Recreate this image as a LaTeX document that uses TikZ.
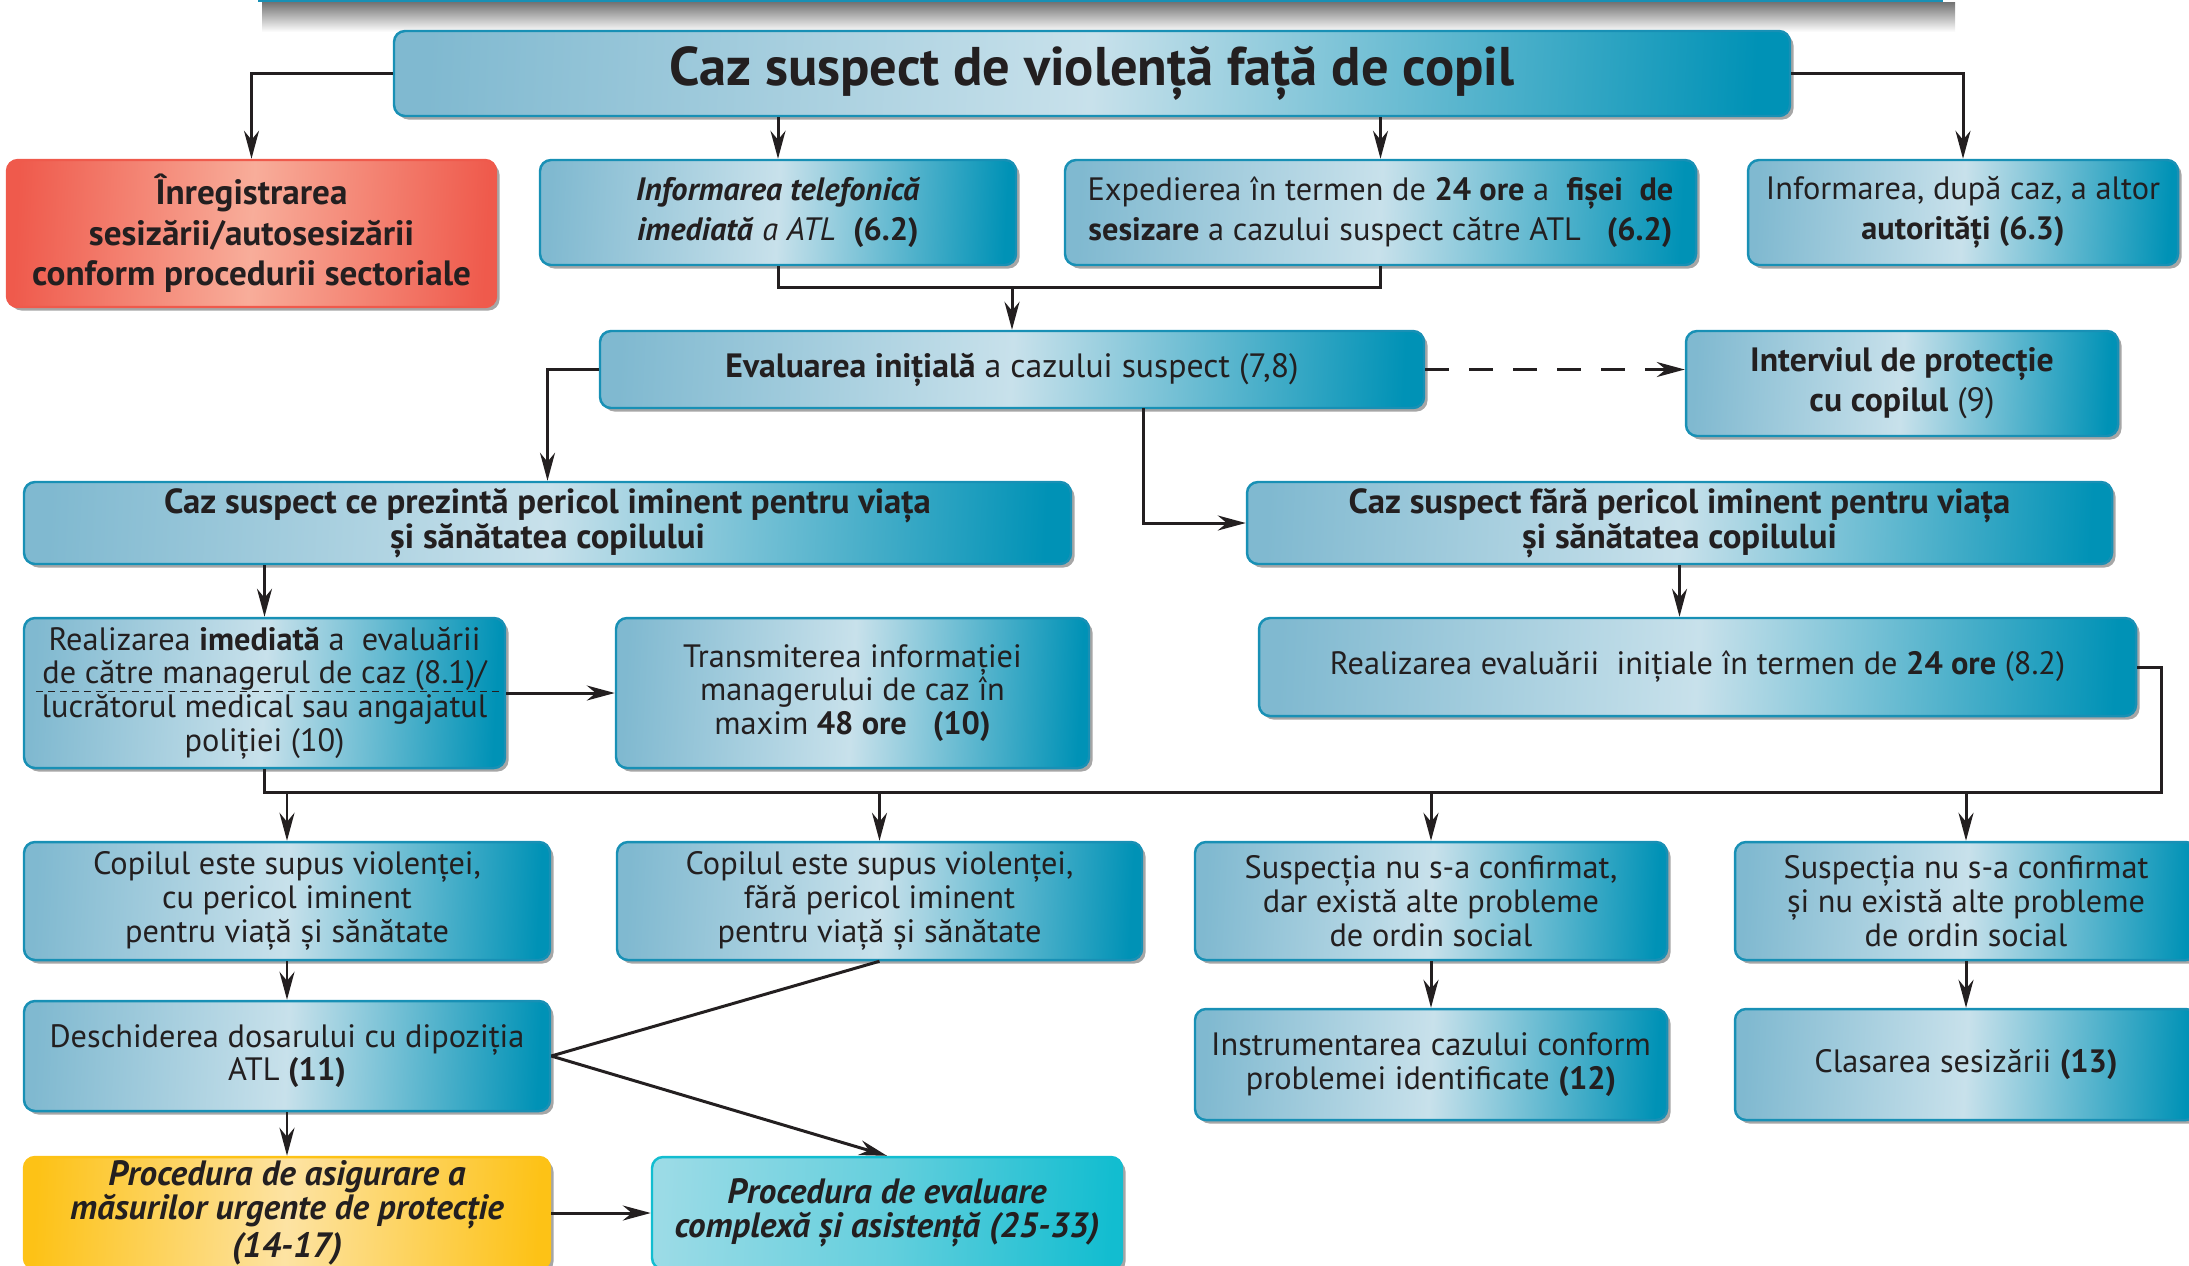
\documentclass[tikz,border=0pt]{standalone}
\usepackage{fontspec}
\setmainfont{PT Sans}
\usetikzlibrary{positioning,arrows.meta,shadows}
\definecolor{ink}{RGB}{35,31,32}
\definecolor{edgeblue}{RGB}{24,144,181}
\definecolor{blueA}{RGB}{128,185,208}
\definecolor{blueB}{RGB}{200,225,235}
\definecolor{blueC}{RGB}{0,146,182}
\definecolor{redA}{RGB}{239,90,76}
\definecolor{redB}{RGB}{248,173,154}
\definecolor{yelA}{RGB}{253,194,22}
\definecolor{yelB}{RGB}{253,227,163}
\definecolor{cyanA}{RGB}{155,219,230}
\definecolor{cyanC}{RGB}{18,189,208}

\begin{document}
\begin{tikzpicture}[x=0.1mm, y=-0.1mm,
    box/.style={rectangle, rounded corners=1.1mm, draw=edgeblue, line width=0.7pt, align=center,
                font=\fontsize{9.2}{9.6}\selectfont, text=ink, inner sep=1pt,
                left color=blueA, right color=blueC, middle color=blueB, shading angle=87,
                drop shadow={shadow xshift=0.35mm, shadow yshift=-0.35mm, fill=black, opacity=0.35}},
    head/.style={box, font=\bfseries\fontsize{9.9}{10}\selectfont},
    top/.style={box, font=\fontsize{9.2}{11.4}\selectfont},
    redbox/.style={box, draw=redA, left color=redA, right color=redA, middle color=redB, shading angle=87,
                font=\bfseries\fontsize{10}{11.5}\selectfont},
    yelbox/.style={box, draw=yelA, left color=yelA, right color=yelA, middle color=yelB, shading angle=87,
                font=\bfseries\itshape\fontsize{10}{9.6}\selectfont},
    cyanbox/.style={box, draw=cyanC, left color=cyanA, right color=cyanC, middle color=cyanA!60!cyanC, shading angle=87,
                font=\bfseries\itshape\fontsize{10}{9.6}\selectfont},
    arr/.style={-{Stealth[length=2.8mm, width=1.5mm, inset=0.9mm]}, line width=0.85pt, draw=ink},
    conn/.style={line width=0.85pt, draw=ink}]
    \useasboundingbox (0,0) rectangle (2189,1265);
    % cut-off bar at the top
    \shade[top color=black!55, bottom color=white] (262,2) rectangle (1955,32);
    \fill[edgeblue] (258,-10) rectangle (1943,2);

    % first rows
    \node[box, minimum width=139.6mm, minimum height=8.5mm, font=\bfseries\fontsize{15.5}{17}\selectfont] (caz) at (1092,73.5) {Caz suspect de violență față de copil};
    \node[redbox, minimum width=48.9mm, minimum height=14.7mm] (reg) at (251.5,233.5) {Înregistrarea\\sesizării/autosesizării\\conform procedurii sectoriale};
    \node[top, minimum width=47.6mm, minimum height=10.5mm] (tel) at (778,212.5) {\textbf{\textit{Informarea telefonică}}\\\textbf{\textit{imediată}} \textit{a ATL}\ \ \textbf{(6.2)}};
    \node[top, minimum width=63.1mm, minimum height=10.5mm] (exp) at (1380.5,212.5) {Expedierea în termen de \textbf{24 ore} a \ \textbf{fișei \ de}\\\textbf{sesizare} a cazului suspect către ATL \ \ \textbf{(6.2)}};
    \node[top, minimum width=43mm, minimum height=10.5mm] (aut) at (1963,212.5) {Informarea, după caz, a altor\\\textbf{autorități (6.3)}};
    \node[top, minimum width=82.4mm, minimum height=7.7mm, font=\fontsize{9.6}{11.4}\selectfont] (eval) at (1012,369.5) {\textbf{Evaluarea inițială} a cazului suspect (7,8)};
    \node[top, minimum width=43.2mm, minimum height=10.5mm, font=\fontsize{9.6}{11.4}\selectfont] (interv) at (1902,383.5) {\textbf{Interviul de protecție}\\\textbf{cu copilul} (9)};

    % the two cases
    \node[head, minimum width=104.7mm, minimum height=8.2mm] (pericol) at (547.5,523) {Caz suspect ce prezintă pericol iminent pentru viața\\și sănătatea copilului};
    \node[head, minimum width=86.5mm, minimum height=8.2mm] (farap) at (1679.5,523) {Caz suspect fără pericol iminent pentru viața\\și sănătatea copilului};
    \node[box, minimum width=48.1mm, minimum height=15mm] (imed) at (264.5,693) {Realizarea \textbf{imediată} a \ evaluării\\de către managerul de caz (8.1)/\\lucrătorul medical sau angajatul\\poliției (10)};
    \draw[ink, line width=0.5pt, dash pattern=on 0.7mm off 0.5mm] ([xshift=1.3mm,yshift=0.15mm]imed.west) -- ([xshift=-0.7mm,yshift=0.15mm]imed.east);
    \node[box, minimum width=47.3mm, minimum height=15mm] (transm) at (852.5,693) {Transmiterea informației\\managerului de caz în\\maxim \textbf{48 ore} \ \ \textbf{(10)}};
    \node[box, minimum width=87.7mm, minimum height=9.8mm] (eval24) at (1697.5,667) {Realizarea evaluării \ inițiale în termen de \textbf{24 ore} (8.2)};

    % outcomes
    \node[box, minimum width=52.6mm, minimum height=11.8mm] (cop1) at (287,901) {Copilul este supus violenței,\\cu pericol iminent\\pentru viață și sănătate};
    \node[box, minimum width=52.5mm, minimum height=11.8mm] (cop2) at (879.5,901) {Copilul este supus violenței,\\fără pericol iminent\\pentru viață și sănătate};
    \node[box, minimum width=47.2mm, minimum height=11.8mm] (sus1) at (1431,901) {Suspecția nu s-a confirmat,\\dar există alte probleme\\de ordin social};
    \node[box, minimum width=46.2mm, minimum height=11.8mm] (sus2) at (1966,901) {Suspecția nu s-a confirmat\\și nu există alte probleme\\de ordin social};
    \node[box, minimum width=52.6mm, minimum height=11mm] (dosar) at (287,1056) {Deschiderea dosarului cu dipoziția\\ATL \textbf{(11)}};
    \node[box, minimum width=47.2mm, minimum height=11.1mm] (instr) at (1431,1064.5) {Instrumentarea cazului conform\\problemei identificate \textbf{(12)}};
    \node[box, minimum width=46.2mm, minimum height=11.1mm] (clas) at (1966,1064.5) {Clasarea sesizării \textbf{(13)}};
    \node[yelbox, minimum width=52.6mm, minimum height=11.2mm] (urg) at (287,1213) {Procedura de asigurare a\\măsurilor urgente de protecție\\(14-17)};
    \node[cyanbox, minimum width=47mm, minimum height=11.2mm] (compl) at (887,1213) {Procedura de evaluare\\complexă și asistență (25-33)};

    % connectors
    \draw[arr] (caz.west) -| (reg.north);
    \draw[arr] (caz.south -| tel.north) -- (tel.north);
    \draw[arr] (caz.south -| exp.north) -- (exp.north);
    \draw[arr] (caz.east) -| (aut.north);
    \coordinate (j1) at (1012,287);
    \draw[conn] (tel.south) |- (j1) -| (exp.south);
    \draw[arr] (j1) -- (eval.north);
    \draw[arr] (eval.west) -| (pericol.north);
    \draw[arr, dash pattern=on 2.4mm off 2mm] (eval.east) -- (eval.east -| interv.west);
    \coordinate (j2) at (1143,408);
    \draw[arr] (j2) |- (farap.west);
    \draw[arr] (pericol.south -| imed.north) -- (imed.north);
    \draw[arr] (farap.south) -- (farap.south |- eval24.north);
    \draw[arr] (imed.east) -- (transm.west);
    \coordinate (busL) at (264.5,792);
    \coordinate (busR) at (2161,792);
    \draw[conn] (eval24.east) -| (busR) -- (busL) -- (imed.south);
    \draw[arr] (cop1.north |- busL) -- (cop1.north);
    \draw[arr] (cop2.north |- busL) -- (cop2.north);
    \draw[arr] (sus1.north |- busL) -- (sus1.north);
    \draw[arr] (sus2.north |- busL) -- (sus2.north);
    \draw[arr] (cop1.south) -- (dosar.north);
    \draw[arr] (dosar.south) -- (urg.north);
    \draw[conn] (cop2.south) -- (dosar.east);
    \draw[arr] (dosar.east) -- (compl.north);
    \draw[arr] (urg.east) -- (compl.west);
    \draw[arr] (sus1.south) -- (instr.north);
    \draw[arr] (sus2.south) -- (clas.north);
\end{tikzpicture}
\end{document}
